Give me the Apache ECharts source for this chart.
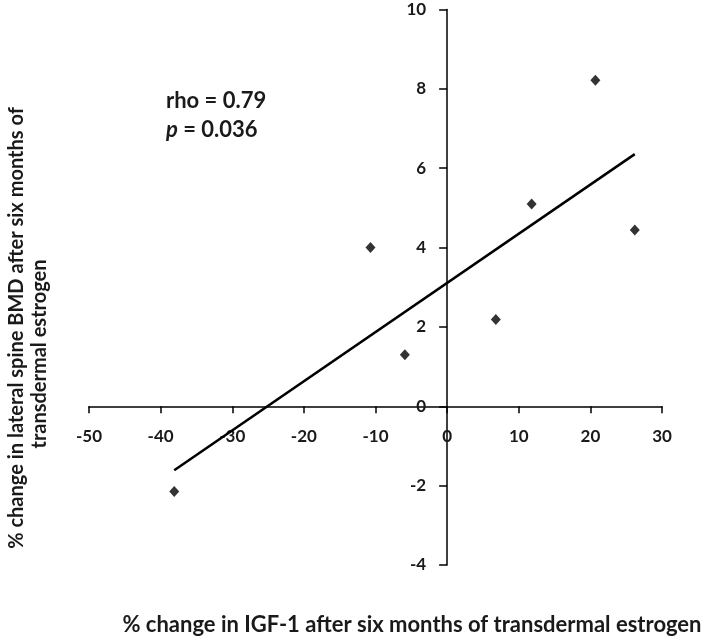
<!DOCTYPE html>
<html>
<head>
<meta charset="utf-8">
<script src="https://cdn.jsdelivr.net/npm/echarts@6/dist/echarts.min.js"></script>
<style>html,body{margin:0;padding:0;background:#fff}#c{width:709px;height:638px}</style>
</head>
<body>
<div id="c"></div>
<script>
// Data
var igfChange = [-38.1, -10.7, -5.9, 6.8, 11.8, 20.7, 26.2];
var bmdChange = [-2.15, 4.0, 1.3, 2.19, 5.1, 8.22, 4.44];
var xTicks = [-50, -40, -30, -20, -10, 0, 10, 20, 30];
var yTicks = [-4, -2, 0, 2, 4, 6, 8, 10];
var xTitle = '% change in IGF-1 after six months of transdermal estrogen';
var yTitleLine1 = '% change in lateral spine BMD after six months of';
var yTitleLine2 = 'transdermal estrogen';
var statRho = 'rho = 0.79';
var statP = '0.036';

// least squares trend line computed from the data
var n = igfChange.length, mx = 0, my = 0;
for (var i = 0; i < n; i++) { mx += igfChange[i]; my += bmdChange[i]; }
mx /= n; my /= n;
var sxy = 0, sxx = 0;
for (var i = 0; i < n; i++) { sxy += (igfChange[i]-mx)*(bmdChange[i]-my); sxx += (igfChange[i]-mx)*(igfChange[i]-mx); }
var slope = sxy / sxx, icpt = my - slope * mx;
var xMin = Math.min.apply(null, igfChange), xMax = Math.max.apply(null, igfChange);
var trend = [[xMin, icpt + slope*xMin], [xMax, icpt + slope*xMax]];
var points = igfChange.map(function(x, i){ return [x, bmdChange[i]]; });

var FONT = 'Lato';
var TXT = '#1a1a1a';
var chart = echarts.init(document.getElementById('c'));
chart.setOption({
  animation: false,
  backgroundColor: '#fff',
  grid: { left: 89, right: 47, top: 9.5, bottom: 73 },
  xAxis: {
    type: 'value', min: xTicks[0], max: xTicks[xTicks.length-1], interval: 10,
    axisLine: { onZero: false, lineStyle: { color: '#000', width: 1.5 } },
    axisTick: { show: true, length: 7, lineStyle: { color: '#000', width: 1.5 } },
    axisLabel: { fontFamily: FONT, fontWeight: 'bold', fontSize: 17, color: TXT, margin: 22 },
    splitLine: { show: false }
  },
  yAxis: {
    type: 'value', min: yTicks[0], max: yTicks[yTicks.length-1], interval: 2,
    axisLine: { onZero: false, lineStyle: { color: '#000', width: 1.5 } },
    axisTick: { show: true, length: 8, lineStyle: { color: '#000', width: 1.5 } },
    axisLabel: { fontFamily: FONT, fontWeight: 'bold', fontSize: 17, color: TXT, margin: 21 },
    splitLine: { show: false }
  },
  series: [
    { type: 'line', data: trend, symbol: 'none', lineStyle: { color: '#000', width: 2.5 }, z: 3 },
    { type: 'scatter', data: points, symbol: 'diamond', symbolSize: [10, 11], itemStyle: { color: '#000' }, z: 4 }
  ],
  graphic: [
    { type: 'text', left: 166, top: 90, style: { text: statRho, font: 'bold 22px ' + FONT, fill: TXT } },
    { type: 'text', left: 166, top: 119, style: {
        text: '{i|p} = ' + statP, font: 'bold 22px ' + FONT, fill: TXT,
        rich: { i: { fontStyle: 'italic', fontWeight: 'bold', fontSize: 22, fontFamily: FONT, fill: TXT } } } },
    { type: 'text', x: 412, y: 625, style: { text: xTitle, font: 'bold 22px ' + FONT, fill: TXT, align: 'center', verticalAlign: 'middle' } },
    { type: 'text', x: 17, y: 328, rotation: Math.PI/2, style: { text: yTitleLine1, font: 'bold 20px ' + FONT, fill: TXT, align: 'center', verticalAlign: 'middle' } },
    { type: 'text', x: 40, y: 354, rotation: Math.PI/2, style: { text: yTitleLine2, font: 'bold 20px ' + FONT, fill: TXT, align: 'center', verticalAlign: 'middle' } }
  ]
});
// Move both axes (line, ticks and labels) so they cross at the data origin
var origin = chart.convertToPixel({ gridIndex: 0 }, [0, 0]);
var gridBottom = chart.convertToPixel({ yAxisIndex: 0 }, yTicks[0]);
var gridLeft = chart.convertToPixel({ xAxisIndex: 0 }, xTicks[0]);
chart.setOption({
  xAxis: { offset: -(gridBottom - origin[1]) },
  yAxis: { offset: -(origin[0] - gridLeft) }
});
</script>
</body>
</html>
